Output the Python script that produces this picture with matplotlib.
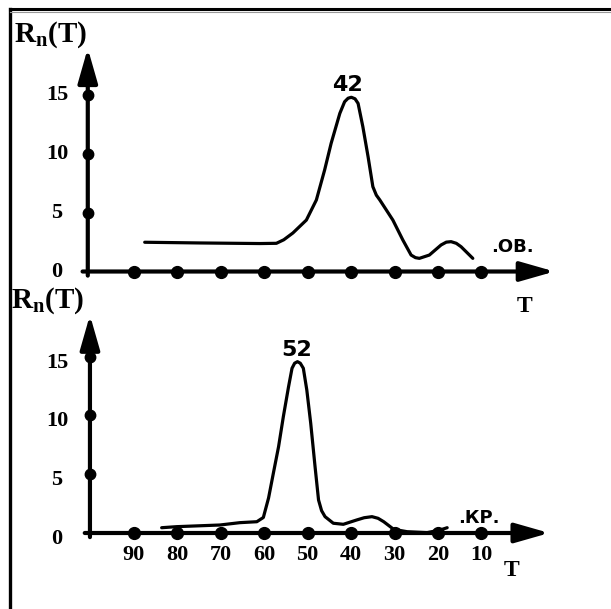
import matplotlib
matplotlib.use('Agg')
import matplotlib.pyplot as plt
from matplotlib.lines import Line2D

plt.rcParams['mathtext.fontset'] = 'custom'
plt.rcParams['mathtext.rm'] = 'Liberation Serif:bold'
plt.rcParams['mathtext.bf'] = 'Liberation Serif:bold'
plt.rcParams['mathtext.it'] = 'Liberation Serif:bold'

# upper curve (ОВ.)
t_ob = [87.5, 74.8, 61.0, 57.2, 55.5, 53.4, 50.3, 48.0, 46.1, 44.6, 42.6, 41.5,
        40.7, 39.95, 39.1, 38.4, 37.3, 36.1, 35.0, 34.2, 33.4, 30.4, 28.1, 26.2,
        25.2, 24.3, 22.0, 19.3, 18.1, 17.0, 15.8, 14.7, 12.0]
r_ob = [2.49, 2.43, 2.38, 2.40, 2.70, 3.28, 4.38, 6.09, 8.64, 10.91, 13.46, 14.45,
        14.75, 14.83, 14.70, 14.31, 12.32, 9.77, 7.22, 6.50, 6.09, 4.38, 2.68, 1.40,
        1.18, 1.12, 1.40, 2.26, 2.50, 2.54, 2.40, 2.11, 1.12]

# lower curve (КР.)
t_kr = [83.6, 80.1, 70.2, 65.6, 61.7, 60.2, 59.0, 57.9, 56.7, 55.6, 54.4, 53.6,
        53.0, 52.35, 51.7, 51.0, 50.2, 49.3, 48.3, 47.5, 46.8, 46.0, 44.1, 41.8,
        38.7, 37.0, 35.2, 33.8, 32.5, 30.2, 27.1, 22.5, 19.5, 17.9]
r_kr = [0.45, 0.54, 0.68, 0.88, 0.96, 1.32, 2.98, 5.08, 7.34, 9.90, 12.45, 14.02,
        14.45, 14.58, 14.45, 14.02, 12.17, 9.34, 5.64, 2.81, 1.90, 1.39, 0.83, 0.74,
        1.11, 1.30, 1.39, 1.25, 0.96, 0.31, 0.11, 0.03, 0.26, 0.45]

x_ticks = [90, 80, 70, 60, 50, 40, 30, 20, 10]
y_ticks = [0, 5, 10, 15]
y_dots = [5, 10, 15]

peak_labels = ['42', '52']
tags = ['.ОВ.', '.КР.']

SERIF = dict(family='Liberation Serif', fontweight='bold', color='black')
SANS = dict(family='DejaVu Sans', fontweight='heavy', color='black')


def arrow(ax, start, end):
    ax.annotate('', xy=end, xytext=start,
                arrowprops=dict(arrowstyle='-|>,head_length=2.1,head_width=0.6',
                                lw=3.0, color='black', shrinkA=0, shrinkB=0,
                                mutation_scale=10))


def draw_panel(ax, t, r, ylim, yaxis_t, y_tip, x_tip, ylab_dy):
    ax.set_xlim(120.8, -19.8)
    ax.set_ylim(*ylim)
    ax.axis('off')
    ax.patch.set_alpha(0)

    arrow(ax, (yaxis_t, -0.35), (yaxis_t, y_tip))
    arrow(ax, (yaxis_t + 1.2, 0), (x_tip, 0))
    ax.plot([yaxis_t] * len(y_dots), y_dots, 'o', ms=7.5, color='black')
    ax.plot(x_ticks, [0] * len(x_ticks), 'o', ms=8.5, color='black')
    ax.plot(t, r, color='black', lw=2.3, solid_capstyle='round',
            solid_joinstyle='round')

    for v in y_ticks:
        ax.text(107.7, v + ylab_dy, str(v), ha='center', va='center',
                fontsize=16, **SERIF)


fig = plt.figure(figsize=(6.11, 6.09), dpi=100)
ax_top = fig.add_axes([0, 319 / 609, 1, 290 / 609])
ax_bot = fig.add_axes([0, 0, 1, 319 / 609])

draw_panel(ax_top, t_ob, r_ob, (-1.574, 23.11), 100.6, 19.0, -6.8, 0.0)
draw_panel(ax_bot, t_kr, r_kr, (-6.468, 20.68), 100.1, 18.55, -5.6, -0.5)

# top panel texts
ax_top.text(117.6, 19.6, r'$\mathbf{R_n(T)}$', ha='left', va='baseline',
            fontsize=21, color='black')
ax_top.text(40.8, 15.87, peak_labels[0], ha='center', va='center',
            fontsize=16, **SANS)
ax_top.text(2.9, 2.09, tags[0], ha='center', va='center', fontsize=13, **SANS)
ax_top.text(0.1, -2.94, 'T', ha='center', va='center', fontsize=17, **SERIF)

# bottom panel texts
ax_bot.text(118.3, 19.15, r'$\mathbf{R_n(T)}$', ha='left', va='baseline',
            fontsize=21, color='black')
ax_bot.text(52.6, 15.57, peak_labels[1], ha='center', va='center',
            fontsize=16, **SANS)
ax_bot.text(10.5, 1.28, tags[1], ha='center', va='center', fontsize=13, **SANS)
ax_bot.text(3.1, -3.23, 'T', ha='center', va='center', fontsize=17, **SERIF)
for v in x_ticks:
    ax_bot.text(v, -1.87, str(v), ha='center', va='center', fontsize=16, **SERIF)

# scan frame
fig.add_artist(Line2D([10 / 611, 10 / 611], [0, 1 - 9 / 609],
                      transform=fig.transFigure, lw=2.4, color='black'))
fig.add_artist(Line2D([10 / 611, 1], [1 - 9 / 609, 1 - 9 / 609],
                      transform=fig.transFigure, lw=2.2, color='black'))
fig.add_artist(Line2D([10 / 611, 1], [1 - 12 / 609, 1 - 12 / 609],
                      transform=fig.transFigure, lw=0.8, color='#999999'))

fig.savefig('out.png', dpi=100)
